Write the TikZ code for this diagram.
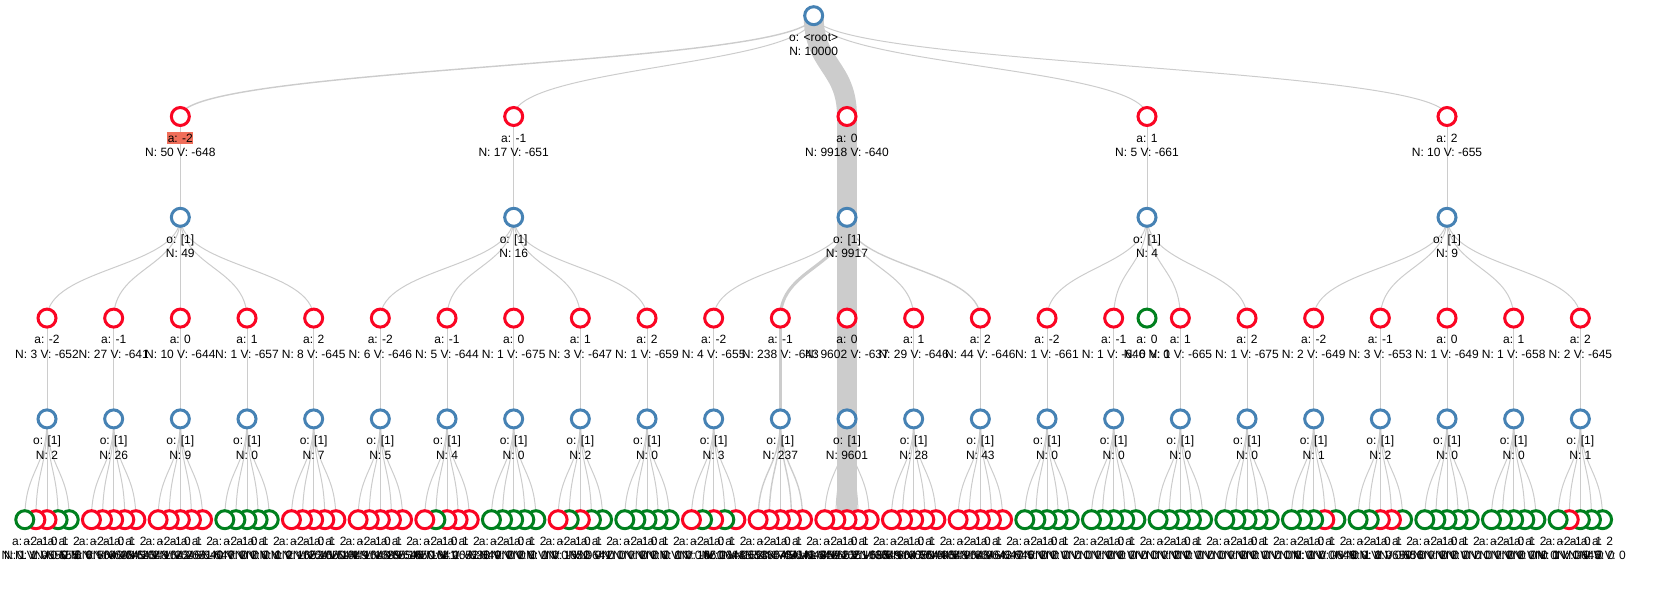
\documentclass[tikz,border=0pt]{standalone}
\usepackage{fontspec}
\setmainfont{Liberation Sans}
\usetikzlibrary{calc}
\pgfdeclarelayer{edges}
\pgfsetlayers{edges,main}
\definecolor{obsc}{RGB}{70,130,180}
\definecolor{actr}{RGB}{250,5,35}
\definecolor{actg}{RGB}{0,128,30}
\definecolor{linkc}{RGB}{204,204,204}
\definecolor{hl}{RGB}{240,110,90}
\tikzset{
  nd/.style={circle, minimum size=13.5pt, inner sep=0pt, line width=2.25pt, fill=white},
  obsnode/.style={nd, draw=obsc},
  txt/.style={font=\fontsize{9pt}{10.8pt}\selectfont, inner sep=0pt, anchor=base, text=black},
  lnkline/.style={draw=linkc},
}
\newcommand\lnk[3]{%
  \pgfmathsetmacro\lkw{max(0.75,sqrt(#1)*0.15)}%
  \begin{pgfonlayer}{edges}
  \draw[lnkline, line width=\lkw pt] (#2.center) .. controls ($(#2.center)!0.5!(#2.center|-#3.center)$) and ($(#3.center)!0.5!(#3.center|-#2.center)$) .. (#3.center);
  \end{pgfonlayer}}
\newcommand\leaves[3]{%
  \foreach \m/\n/\v in {#3}{%
    \pgfmathsetmacro\lx{#2+(\m-2)*11.111}%
    \pgfmathtruncatemacro\acv{\m-2}%
    \ifnum\n=0 \def\lcol{actg}\else\def\lcol{actr}\fi
    \node[nd, draw=\lcol] (L#1-\m) at (\lx,519.7) {};
    \node[txt] (L#1-\m-a) at (\lx,545.4) {a: \acv};
    \node[txt] (L#1-\m-n) at (\lx,559.8) {N: \n{} V: \v};
    \lnk{\n}{P#1}{L#1-\m}
  }}
\begin{document}
\begin{tikzpicture}[x=0.75pt,y=-0.75pt]
\useasboundingbox (0,0) rectangle (1666,599);
% root
\node[obsnode] (R) at (813.67,15.7) {};
\node[txt] (R-o) at (813.67,41.4) {o: <root>};
\node[txt] (R-n) at (813.67,55.8) {N: 10000};
% level 1
\foreach \i/\x/\ac/\n/\v in {1/180.33/-2/50/-648, 2/513.67/-1/17/-651, 3/847/0/9918/-640, 4/1147/1/5/-661, 5/1447/2/10/-655}{
  \node[nd, draw=actr] (A\i) at (\x,116.5) {};
  \ifnum\i=1
    \node[txt, fill=hl, text height=7.4pt, text depth=1.6pt, inner xsep=0.4pt] (A\i-a) at (\x,142.2) {a: \ac};
  \else
    \node[txt] (A\i-a) at (\x,142.2) {a: \ac};
  \fi
  \node[txt] (A\i-n) at (\x,156.6) {N: \n{} V: \v};
  \lnk{\n}{R}{A\i}
}
% level 2
\foreach \i/\x/\n in {1/180.33/49, 2/513.67/16, 3/847/9917, 4/1147/4, 5/1447/9}{
  \node[obsnode] (O\i) at (\x,217.3) {};
  \node[txt] (O\i-o) at (\x,243.0) {o: [1]};
  \node[txt] (O\i-n) at (\x,257.4) {N: \n};
  \lnk{\n}{A\i}{O\i}
}
% level 3
\foreach \i/\x/\g/\ac/\n/\v in {1/47/1/-2/3/-652, 2/113.67/1/-1/27/-641, 3/180.33/1/0/10/-644, 4/247/1/1/1/-657, 5/313.67/1/2/8/-645, 6/380.33/2/-2/6/-646, 7/447/2/-1/5/-644, 8/513.67/2/0/1/-675, 9/580.33/2/1/3/-647, 10/647/2/2/1/-659, 11/713.67/3/-2/4/-655, 12/780.33/3/-1/238/-643, 13/847/3/0/9602/-637, 14/913.67/3/1/29/-646, 15/980.33/3/2/44/-646, 16/1047/4/-2/1/-661, 17/1113.67/4/-1/1/-646, 18/1147/4/0/0/0, 19/1180.33/4/1/1/-665, 20/1247/4/2/1/-675, 21/1313.67/5/-2/2/-649, 22/1380.33/5/-1/3/-653, 23/1447/5/0/1/-649, 24/1513.67/5/1/1/-658, 25/1580.33/5/2/2/-645}{
  \ifnum\n=0 \def\bcol{actg}\else\def\bcol{actr}\fi
  \node[nd, draw=\bcol] (B\i) at (\x,318.1) {};
  \node[txt] (B\i-a) at (\x,343.8) {a: \ac};
  \node[txt] (B\i-n) at (\x,358.2) {N: \n{} V: \v};
  \lnk{\n}{O\g}{B\i}
}
% level 4
\foreach \j/\b/\x/\n in {1/1/47/2, 2/2/113.67/26, 3/3/180.33/9, 4/4/247/0, 5/5/313.67/7, 6/6/380.33/5, 7/7/447/4, 8/8/513.67/0, 9/9/580.33/2, 10/10/647/0, 11/11/713.67/3, 12/12/780.33/237, 13/13/847/9601, 14/14/913.67/28, 15/15/980.33/43, 16/16/1047/0, 17/17/1113.67/0, 18/19/1180.33/0, 19/20/1247/0, 20/21/1313.67/1, 21/22/1380.33/2, 22/23/1447/0, 23/24/1513.67/0, 24/25/1580.33/1}{
  \node[obsnode] (P\j) at (\x,418.9) {};
  \node[txt] (P\j-o) at (\x,444.6) {o: [1]};
  \node[txt] (P\j-n) at (\x,459.0) {N: \n};
  \lnk{\n}{B\b}{P\j}
}
% leaves (drawn right to left so the leftmost lies on top)
\leaves{1}{47}{4/0/0,3/0/0,2/1/-655,1/1/-650,0/0/0}
\leaves{2}{113.67}{4/4/-648,3/6/-643,2/5/-645,1/6/-638,0/5/-640}
\leaves{3}{180.33}{4/2/-647,3/2/-640,2/1/-651,1/2/-646,0/2/-642}
\leaves{4}{247}{4/0/0,3/0/0,2/0/0,1/0/0,0/0/0}
\leaves{5}{313.67}{4/1/-649,3/2/-644,2/1/-660,1/2/-641,0/1/-652}
\leaves{6}{380.33}{4/1/-650,3/1/-646,2/1/-655,1/1/-639,0/1/-648}
\leaves{7}{447}{4/1/-649,3/1/-638,2/1/-652,1/0/0,0/1/-641}
\leaves{8}{513.67}{4/0/0,3/0/0,2/0/0,1/0/0,0/0/0}
\leaves{9}{580.33}{4/0/0,3/0/0,2/1/-641,1/0/0,0/1/-652}
\leaves{10}{647}{4/0/0,3/0/0,2/0/0,1/0/0,0/0/0}
\leaves{11}{713.67}{4/1/-653,3/0/0,2/1/-648,1/0/0,0/1/-661}
\leaves{12}{780.33}{4/45/-646,3/47/-644,2/48/-643,1/52/-641,0/45/-645}
\leaves{13}{847}{4/2/-649,3/2/-655,2/9594/-637,1/2/-651,0/1/-662}
\leaves{14}{913.67}{4/5/-648,3/6/-645,2/6/-644,1/5/-650,0/6/-647}
\leaves{15}{980.33}{4/9/-645,3/8/-647,2/9/-643,1/8/-646,0/9/-648}
\leaves{16}{1047}{4/0/0,3/0/0,2/0/0,1/0/0,0/0/0}
\leaves{17}{1113.67}{4/0/0,3/0/0,2/0/0,1/0/0,0/0/0}
\leaves{18}{1180.33}{4/0/0,3/0/0,2/0/0,1/0/0,0/0/0}
\leaves{19}{1247}{4/0/0,3/0/0,2/0/0,1/0/0,0/0/0}
\leaves{20}{1313.67}{4/0/0,3/1/-649,2/0/0,1/0/0,0/0/0}
\leaves{21}{1380.33}{4/0/0,3/1/-656,2/1/-650,1/0/0,0/0/0}
\leaves{22}{1447}{4/0/0,3/0/0,2/0/0,1/0/0,0/0/0}
\leaves{23}{1513.67}{4/0/0,3/0/0,2/0/0,1/0/0,0/0/0}
\leaves{24}{1580.33}{4/0/0,3/0/0,2/0/0,1/1/-645,0/0/0}
\end{tikzpicture}
\end{document}
